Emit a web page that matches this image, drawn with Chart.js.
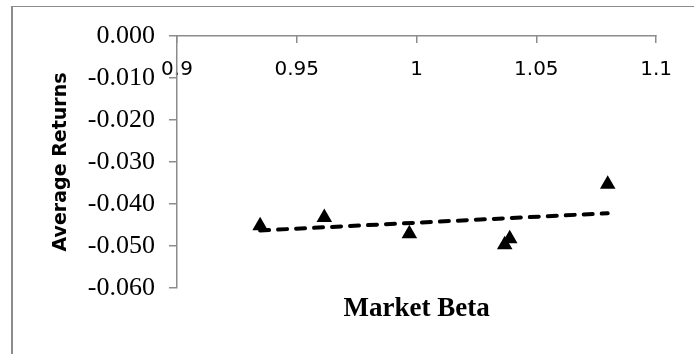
<!DOCTYPE html>
<html>
<head>
<meta charset="utf-8">
<script src="https://cdn.jsdelivr.net/npm/chart.js@4/dist/chart.umd.min.js"></script>
<style>
  html, body { margin: 0; padding: 0; background: #fff; overflow: hidden; }
  #wrap { position: relative; width: 694px; height: 354px; overflow: hidden; }
  #frame { position: absolute; left: 11px; top: 6px; width: 800px; height: 500px;
           border-left: 2px solid #8c8c8c; border-top: 1.5px solid #8c8c8c; }
  #c { position: absolute; left: 0; top: 0; }
</style>
</head>
<body>
<div id="wrap">
  <div id="frame"></div>
  <canvas id="c" width="694" height="354"></canvas>
</div>
<script>
// ---- data ----
const betas      = [0.9347, 0.9615, 0.9970, 1.0389, 1.0368, 1.0798];
const avgReturns = [-0.0452, -0.0432, -0.0471, -0.0483, -0.0497, -0.0353];
const trendBetas   = [0.9347, 1.0798];
const trendReturns = [-0.0463, -0.0422];
const xTickValues = [0.9, 0.95, 1, 1.05, 1.1];
const xTickLabels = ['0.9', '0.95', '1', '1.05', '1.1'];
const yTickValues = [0, -0.01, -0.02, -0.03, -0.04, -0.05, -0.06];
const yTickLabels = ['0.000', '-0.010', '-0.020', '-0.030', '-0.040', '-0.050', '-0.060'];
const xTitle = 'Market Beta';
const yTitle = 'Average Returns';

const axisGray = '#8c8c8c';

const scatterPts = betas.map((b, i) => ({ x: b, y: avgReturns[i] }));
const trendPts = trendBetas.map((b, i) => ({ x: b, y: trendReturns[i] }));

new Chart(document.getElementById('c'), {
  type: 'scatter',
  data: {
    datasets: [
      {
        type: 'line',
        label: 'Trend',
        data: trendPts,
        showLine: true,
        borderColor: '#000',
        borderWidth: 4,
        borderDash: [9, 9],
        borderCapStyle: 'round',
        pointRadius: 0,
        fill: false,
        order: 0
      },
      {
        label: 'Average Returns',
        data: scatterPts,
        pointStyle: 'triangle',
        pointRadius: 9,
        pointHoverRadius: 9,
        backgroundColor: '#000',
        borderColor: '#000',
        borderWidth: 0,
        order: 1
      }
    ]
  },
  options: {
    responsive: false,
    animation: false,
    devicePixelRatio: 1,
    layout: { padding: { top: 36, right: 35, bottom: 0, left: 0 } },
    plugins: { legend: { display: false }, tooltip: { enabled: false } },
    scales: {
      x: {
        type: 'linear',
        position: 'top',
        min: 0.9, max: 1.1,
        afterBuildTicks: s => { s.ticks = xTickValues.map(v => ({ value: v })); },
        afterFit: s => { s.height = 0; },
        border: { display: true, color: axisGray, width: 1.5 },
        grid: { display: true, drawOnChartArea: false, drawTicks: true, tickLength: -7, color: axisGray, lineWidth: 1.5 },
        ticks: {
          mirror: true,
          padding: 22,
          color: '#000',
          font: { family: 'DejaVu Sans', size: 20 },
          maxRotation: 0,
          autoSkip: false,
          callback: (v, i) => xTickLabels[i]
        }
      },
      x2: {
        type: 'linear',
        position: 'bottom',
        min: 0.9, max: 1.1,
        afterFit: s => { s.height = 66; },
        border: { display: false },
        grid: { display: false },
        ticks: { display: false },
        title: {
          display: true,
          text: xTitle,
          color: '#000',
          font: { family: 'Liberation Serif', size: 27, weight: 'bold' },
          padding: { top: 0, bottom: 28.6 }
        }
      },
      y: {
        type: 'linear',
        position: 'left',
        min: -0.06, max: 0,
        afterBuildTicks: s => { s.ticks = yTickValues.map(v => ({ value: v })); },
        afterFit: s => { s.width = 177; },
        border: { display: true, color: axisGray, width: 1.5 },
        grid: { display: true, drawOnChartArea: false, drawTicks: true, tickLength: 8, color: axisGray, lineWidth: 1.5 },
        ticks: {
          padding: 14,
          color: '#000',
          font: { family: 'Liberation Serif', size: 26 },
          autoSkip: false,
          callback: (v, i) => yTickLabels[i]
        },
        title: {
          display: true,
          text: yTitle,
          color: '#000',
          font: { family: 'DejaVu Sans', size: 19, weight: 'bold' },
          padding: { top: 49.3, bottom: 0 }
        }
      }
    }
  }
});
</script>
</body>
</html>
